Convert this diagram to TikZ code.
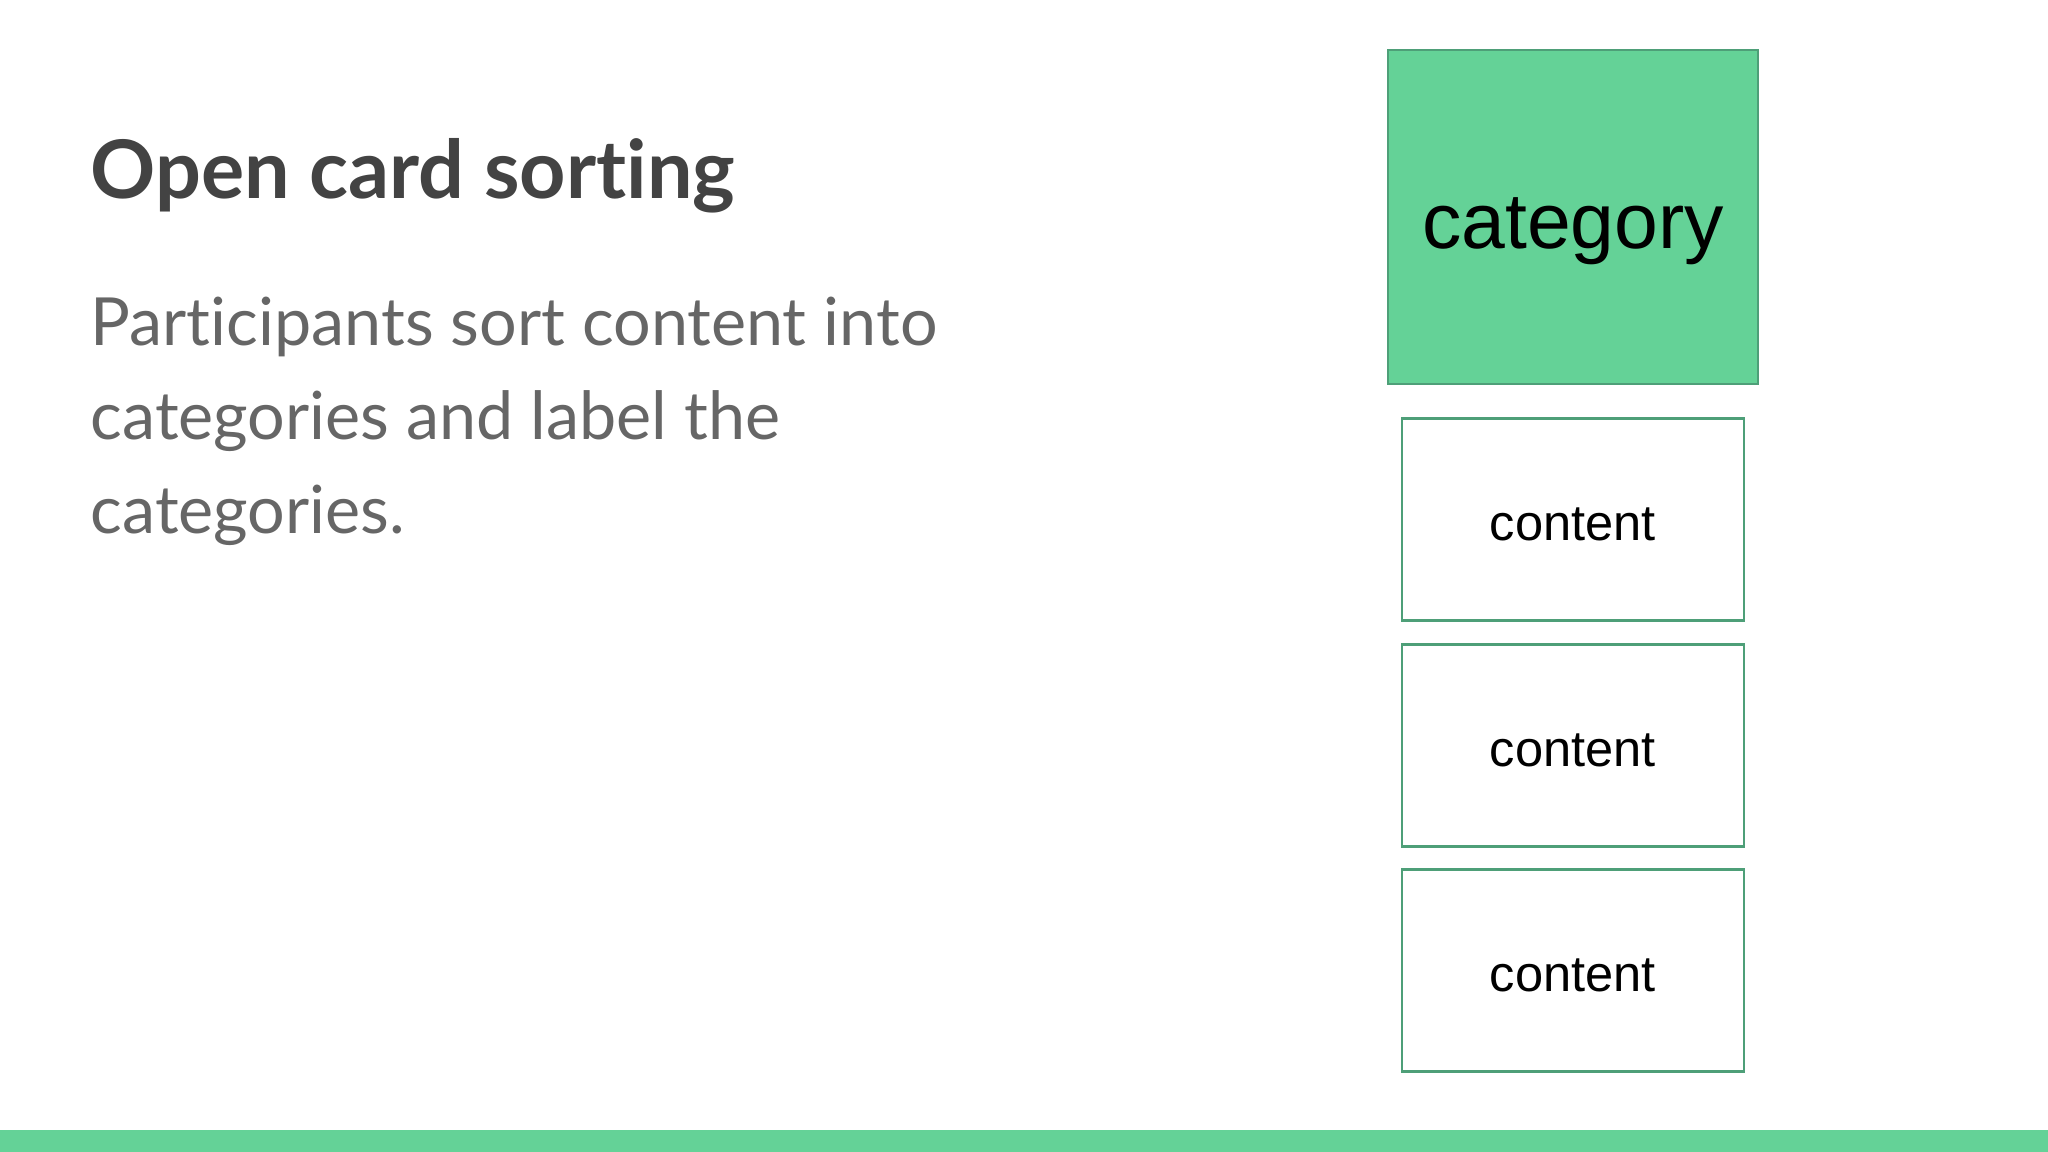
\documentclass[tikz,border=0pt]{standalone}
\usepackage{fontspec}
\setmainfont{Lato}[Ligatures=NoCommon]
\newfontfamily\cardfont{Liberation Sans}
\usetikzlibrary{positioning}
\definecolor{mgreen}{HTML}{64D297}
\definecolor{mborder}{HTML}{4E9F78}
\definecolor{mtitle}{HTML}{434343}
\definecolor{mbody}{HTML}{666666}
\tikzset{catbox/.style = {draw=mborder, fill=mgreen, line width=0.8pt,
                          minimum width=3.70cm, minimum height=3.34cm,
                          text height=18pt, text depth=0pt,
                          font=\cardfont\fontsize{22.4}{26}\selectfont}}
\tikzset{cardbox/.style = {draw=mborder, fill=white, line width=0.8pt,
                           minimum width=3.42cm, minimum height=2.02cm,
                           text height=11.8pt, text depth=0pt,
                           font=\cardfont\fontsize{14.4}{17}\selectfont}}
\tikzset{bodyline/.style = {anchor=base west, inner sep=0, text=mbody,
                            font=\fontsize{18.9}{26}\selectfont}}

\begin{document}
\begin{tikzpicture}
    \useasboundingbox (0, 0) rectangle (20.48, -11.52);

    \node [anchor=base west, inner sep=0, text=mtitle,
           font=\bfseries\fontsize{23}{27}\selectfont] (title) at (0.9, -1.99)
          {Open card sorting};

    \node [bodyline] (line1) at (0.9, -3.46) {Participants sort content into};
    \node [bodyline] (line2) at (0.9, -4.40) {categories and label the};
    \node [bodyline] (line3) at (0.9, -5.33) {categories.};

    \node [catbox] (cat) at (15.73, -2.17) {category};
    \node [cardbox, below=0.32 of cat] (card1) {content};
    \node [cardbox, below=0.207 of card1] (card2) {content};
    \node [cardbox, below=0.207 of card2] (card3) {content};

    \fill [mgreen] (0, -11.30) rectangle (20.48, -11.52);
  \end{tikzpicture}
\end{document}
